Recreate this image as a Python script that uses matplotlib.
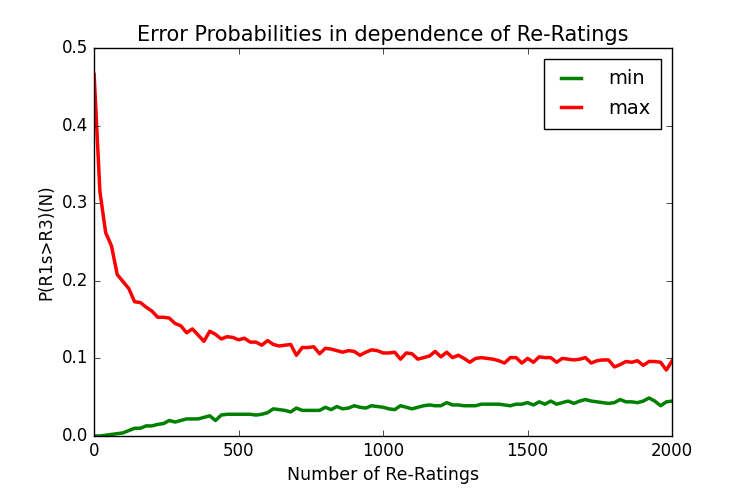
import matplotlib
matplotlib.use("Agg")
import matplotlib.pyplot as plt

plt.style.use("classic")

n_ratings = list(range(0, 2001, 20))

p_min = [0.000, 0.000, 0.001, 0.002, 0.003, 0.004, 0.007, 0.010, 0.010, 0.013,
         0.013, 0.015, 0.016, 0.020, 0.018, 0.020, 0.022, 0.022, 0.022, 0.024,
         0.026, 0.020, 0.027, 0.028, 0.028, 0.028, 0.028, 0.028, 0.027, 0.028,
         0.030, 0.035, 0.034, 0.033, 0.031, 0.036, 0.033, 0.033, 0.033, 0.033,
         0.037, 0.034, 0.038, 0.035, 0.036, 0.039, 0.037, 0.036, 0.039, 0.038,
         0.037, 0.035, 0.034, 0.039, 0.037, 0.035, 0.037, 0.039, 0.040, 0.039,
         0.039, 0.043, 0.040, 0.040, 0.039, 0.039, 0.039, 0.041, 0.041, 0.041,
         0.041, 0.040, 0.039, 0.041, 0.041, 0.043, 0.040, 0.044, 0.041, 0.045,
         0.041, 0.043, 0.045, 0.042, 0.045, 0.047, 0.045, 0.044, 0.043, 0.042,
         0.043, 0.047, 0.044, 0.044, 0.043, 0.045, 0.049, 0.045, 0.039, 0.044,
         0.045]

p_max = [0.466, 0.315, 0.262, 0.245, 0.208, 0.199, 0.190, 0.173, 0.172, 0.166,
         0.161, 0.153, 0.153, 0.152, 0.145, 0.142, 0.133, 0.138, 0.130, 0.122,
         0.135, 0.131, 0.125, 0.128, 0.127, 0.124, 0.126, 0.121, 0.121, 0.117,
         0.123, 0.118, 0.116, 0.117, 0.118, 0.104, 0.114, 0.114, 0.115, 0.106,
         0.113, 0.112, 0.110, 0.108, 0.110, 0.109, 0.104, 0.108, 0.111, 0.110,
         0.107, 0.107, 0.108, 0.099, 0.107, 0.106, 0.099, 0.101, 0.103, 0.109,
         0.102, 0.108, 0.101, 0.104, 0.100, 0.095, 0.100, 0.101, 0.100, 0.099,
         0.097, 0.094, 0.101, 0.101, 0.094, 0.100, 0.095, 0.102, 0.101, 0.101,
         0.095, 0.100, 0.099, 0.098, 0.099, 0.101, 0.094, 0.097, 0.098, 0.098,
         0.089, 0.092, 0.096, 0.095, 0.097, 0.091, 0.096, 0.096, 0.095, 0.085,
         0.097]

fig = plt.figure(figsize=(7.47, 4.98), dpi=100, facecolor="white")
ax = fig.add_axes([0.126, 0.1245, 0.7738, 0.7791])
ax.plot(n_ratings, p_min, color="g", lw=2.5, label="min")
ax.plot(n_ratings, p_max, color="r", lw=2.5, label="max")
ax.set_xlim(0, 2000)
ax.set_ylim(0, 0.5)
ax.set_xticks([0, 500, 1000, 1500, 2000])
ax.set_yticks([0.0, 0.1, 0.2, 0.3, 0.4, 0.5])
ax.set_xlabel("Number of Re-Ratings", fontsize=12.5)
ax.set_ylabel("P(R1s>R3)(N)", fontsize=12)
ax.set_title("Error Probabilities in dependence of Re-Ratings", fontsize=15)
ax.legend(loc="upper right", fontsize=14, handlelength=1.65, handletextpad=1.1,
          borderpad=0.55, labelspacing=0.55, borderaxespad=0.55)
fig.savefig("out.png", dpi=100, facecolor="white")
